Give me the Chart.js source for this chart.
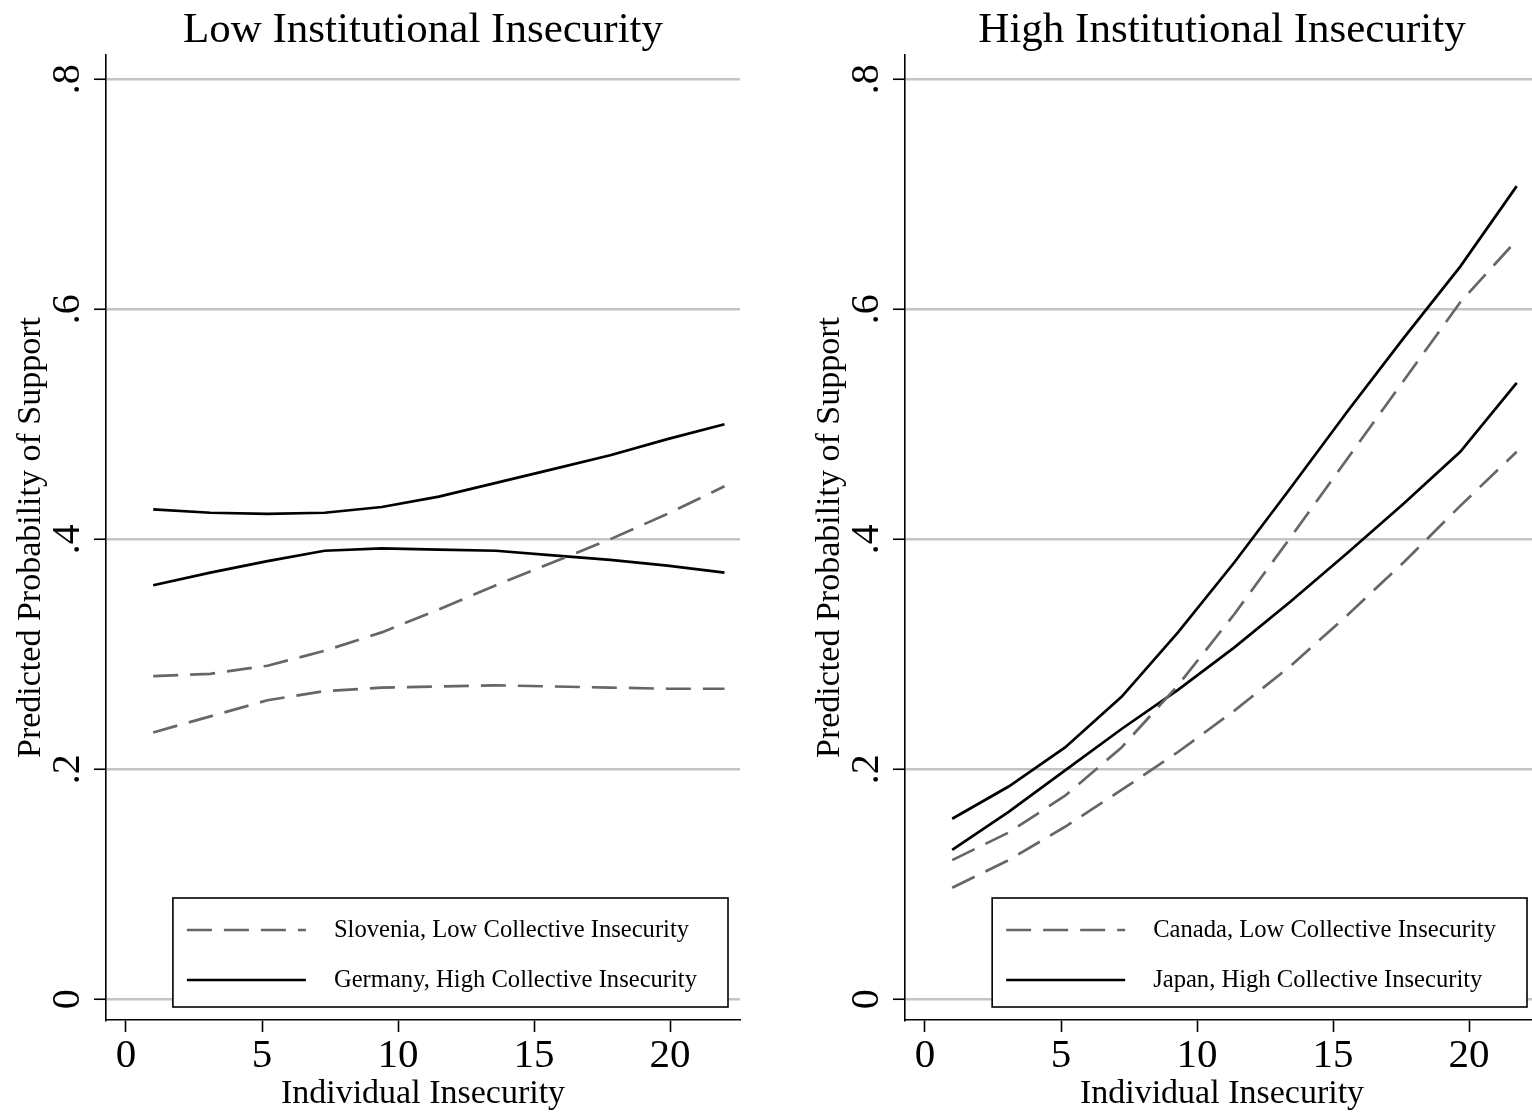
<!DOCTYPE html>
<html>
<head>
<meta charset="utf-8">
<script src="https://cdn.jsdelivr.net/npm/chart.js@4"></script>
<style>
  html, body { margin:0; padding:0; background:#fff; width:1532px; height:1114px; overflow:hidden; }
  .panel { position:absolute; top:0; width:770px; height:1114px; }
  #p1 { left:0; }
  #p2 { left:799px; }
</style>
</head>
<body>
<div class="panel" id="p1"><canvas id="c1" width="770" height="1114"></canvas></div>
<div class="panel" id="p2"><canvas id="c2" width="770" height="1114"></canvas></div>
<script>
// ---- data ----
const xValuesLeft = [1, 3.1, 5.2, 7.3, 9.4, 11.5, 13.6, 15.7, 17.8, 19.9, 22];
const xValuesRight = [1, 3.075, 5.15, 7.225, 9.3, 11.375, 13.45, 15.525, 17.6, 19.675, 21.75];
const xTicks = [0, 5, 10, 15, 20];
const yTicks = [0, 0.2, 0.4, 0.6, 0.8];
const yTickLabels = ['0', '.2', '.4', '.6', '.8'];

const titleLeft = 'Low Institutional Insecurity';
const titleRight = 'High Institutional Insecurity';
const xTitle = 'Individual Insecurity';
const yTitle = 'Predicted Probability of Support';

// Left panel
const sloveniaLabel = 'Slovenia, Low Collective Insecurity';
const sloveniaUpper = [0.281, 0.283, 0.290, 0.303, 0.319, 0.339, 0.360, 0.380, 0.400, 0.422, 0.446];
const sloveniaLower = [0.232, 0.246, 0.260, 0.268, 0.271, 0.272, 0.273, 0.272, 0.271, 0.270, 0.270];
const germanyLabel = 'Germany, High Collective Insecurity';
const germanyUpper = [0.426, 0.423, 0.422, 0.423, 0.428, 0.437, 0.449, 0.461, 0.473, 0.487, 0.500];
const germanyLower = [0.360, 0.371, 0.381, 0.390, 0.392, 0.391, 0.390, 0.386, 0.382, 0.377, 0.371];

// Right panel
const canadaLabel = 'Canada, Low Collective Insecurity';
const canadaUpper = [0.121, 0.145, 0.177, 0.219, 0.273, 0.335, 0.402, 0.470, 0.538, 0.606, 0.660];
const canadaLower = [0.097, 0.121, 0.150, 0.182, 0.215, 0.251, 0.290, 0.334, 0.380, 0.429, 0.476];
const japanLabel = 'Japan, High Collective Insecurity';
const japanUpper = [0.157, 0.185, 0.219, 0.263, 0.319, 0.380, 0.445, 0.511, 0.575, 0.637, 0.707];
const japanLower = [0.130, 0.163, 0.199, 0.235, 0.269, 0.306, 0.346, 0.388, 0.431, 0.476, 0.536];

// ---- styling ----
const FONT = "'Liberation Serif', 'DejaVu Serif', serif";
const DASH_COLOR = '#666666';
const SOLID_COLOR = '#000000';
const GRID_COLOR = '#c4c4c4';
const DASH = [25, 12];

function pts(xs, ys) { return ys.map((y, i) => ({x: xs[i], y})); }

function dashedDs(label, xs, ys) {
  return { label, data: pts(xs, ys), borderColor: DASH_COLOR, borderWidth: 2.7, borderDash: DASH,
           pointRadius: 0, tension: 0, fill: false };
}
function solidDs(label, xs, ys) {
  return { label, data: pts(xs, ys), borderColor: SOLID_COLOR, borderWidth: 2.7,
           pointRadius: 0, tension: 0, fill: false };
}

const panelTitlePlugin = {
  id: 'panelTitle',
  afterDraw(chart) {
    const ctx = chart.ctx;
    const a = chart.chartArea;
    ctx.save();
    ctx.fillStyle = '#000';
    ctx.font = '43px ' + FONT;
    ctx.textAlign = 'center';
    ctx.textBaseline = 'alphabetic';
    ctx.fillText(chart.options.plugins.panelTitle.text, (a.left + a.right) / 2, 42);
    ctx.restore();
  }
};

const yTickLabelPlugin = {
  id: 'yTickLabels',
  afterDraw(chart) {
    const ctx = chart.ctx;
    const ys = chart.scales.y;
    ctx.save();
    ctx.fillStyle = '#000';
    ctx.font = '40px ' + FONT;
    ctx.textAlign = 'center';
    ctx.textBaseline = 'alphabetic';
    yTicks.forEach((v, i) => {
      const py = ys.getPixelForValue(v);
      ctx.save();
      ctx.translate(ys.right - 27, py);
      ctx.rotate(-Math.PI / 2);
      ctx.fillText(yTickLabels[i], 0, 0);
      ctx.restore();
    });
    ctx.restore();
  }
};

const boxLegendPlugin = {
  id: 'boxLegend',
  afterDatasetsDraw(chart) {
    const ctx = chart.ctx;
    const area = chart.chartArea;
    const entries = chart.options.plugins.boxLegend.entries;
    ctx.save();
    ctx.font = '24.6px ' + FONT;
    let maxW = 0;
    entries.forEach(e => { maxW = Math.max(maxW, ctx.measureText(e.label).width); });
    const w = 161 + maxW + 31;
    const right = area.right - 12;
    const left = right - w;
    const top = 898, bottom = 1007;
    ctx.fillStyle = '#fff';
    ctx.fillRect(left, top, w, bottom - top);
    ctx.strokeStyle = '#000';
    ctx.lineWidth = 1.6;
    ctx.strokeRect(left, top, w, bottom - top);
    const rows = [930, 980];
    entries.forEach((e, i) => {
      const ds = chart.data.datasets[e.ds];
      ctx.beginPath();
      ctx.strokeStyle = ds.borderColor;
      ctx.lineWidth = 2.7;
      ctx.setLineDash(ds.borderDash || []);
      ctx.moveTo(left + 14, rows[i]);
      ctx.lineTo(left + 133, rows[i]);
      ctx.stroke();
      ctx.setLineDash([]);
      ctx.fillStyle = '#000';
      ctx.textAlign = 'left';
      ctx.textBaseline = 'middle';
      ctx.fillText(e.label, left + 161, rows[i] + 1);
    });
    ctx.restore();
  }
};

function makeChart(id, title, datasets, entries) {
  return new Chart(document.getElementById(id), {
    type: 'line',
    data: { datasets },
    plugins: [panelTitlePlugin, yTickLabelPlugin, boxLegendPlugin],
    options: {
      responsive: false,
      animation: false,
      devicePixelRatio: 1,
      layout: { padding: { left: 0, right: 30, top: 55, bottom: 0 } },
      plugins: {
        legend: { display: false },
        tooltip: { enabled: false },
        title: { display: false },
        panelTitle: { text: title },
        boxLegend: { entries }
      },
      scales: {
        x: {
          type: 'linear', min: -0.735, max: 22.57,
          afterBuildTicks(s) { s.ticks = xTicks.map(v => ({value: v})); },
          afterFit(s) { s.height = 94; },
          grid: { drawOnChartArea: false, drawTicks: true, tickLength: 12, tickColor: '#000', tickWidth: 1.6 },
          border: { display: true, color: '#000', width: 1.6 },
          ticks: { color: '#000', font: { family: FONT, size: 41 }, padding: 0, maxRotation: 0, autoSkip: false },
          title: { display: true, text: xTitle, color: '#000', font: { family: FONT, size: 34 },
                   padding: { top: 0, bottom: 0 } }
        },
        y: {
          type: 'linear', min: -0.018, max: 0.821,
          afterBuildTicks(s) { s.ticks = yTicks.map(v => ({value: v})); },
          afterFit(s) { s.width = 106; },
          grid: { color: GRID_COLOR, lineWidth: 2.5, drawTicks: true, tickLength: 12, tickColor: '#000', tickWidth: 1.6 },
          border: { display: true, color: '#000', width: 1.6 },
          ticks: { display: false },
          title: { display: true, text: yTitle, color: '#000', font: { family: FONT, size: 34 },
                   padding: { top: 11, bottom: 0 } }
        }
      }
    }
  });
}

const c1 = makeChart('c1', titleLeft, [
  dashedDs(sloveniaLabel, xValuesLeft, sloveniaUpper),
  dashedDs(sloveniaLabel, xValuesLeft, sloveniaLower),
  solidDs(germanyLabel, xValuesLeft, germanyUpper),
  solidDs(germanyLabel, xValuesLeft, germanyLower)
], [{label: sloveniaLabel, ds: 0}, {label: germanyLabel, ds: 2}]);

const c2 = makeChart('c2', titleRight, [
  dashedDs(canadaLabel, xValuesRight, canadaUpper),
  dashedDs(canadaLabel, xValuesRight, canadaLower),
  solidDs(japanLabel, xValuesRight, japanUpper),
  solidDs(japanLabel, xValuesRight, japanLower)
], [{label: canadaLabel, ds: 0}, {label: japanLabel, ds: 2}]);
</script>
</body>
</html>
